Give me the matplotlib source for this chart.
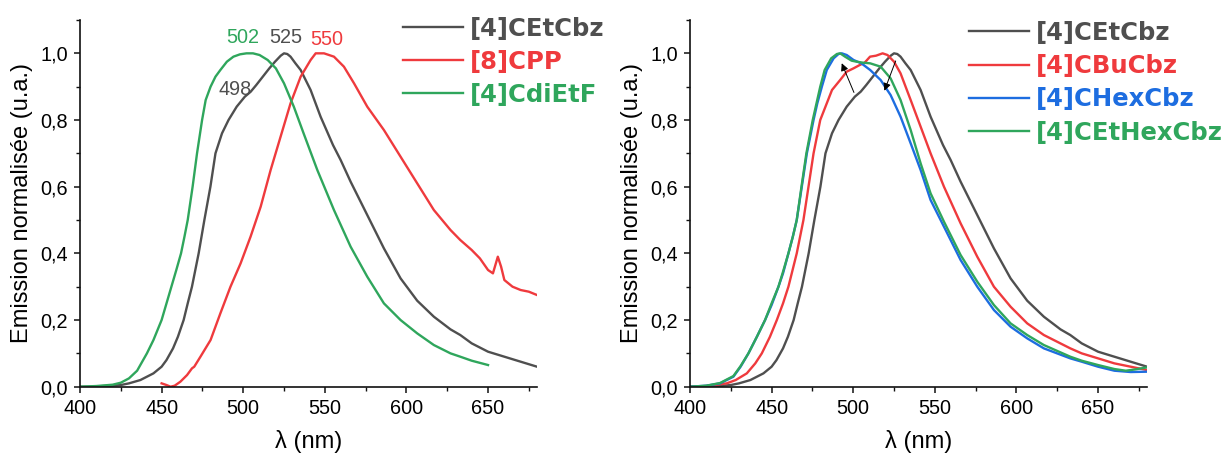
import matplotlib
matplotlib.use("Agg")
import matplotlib.pyplot as plt
from matplotlib.ticker import MultipleLocator, FuncFormatter

plt.rcParams['font.family'] = ['Liberation Sans', 'DejaVu Sans']

GRAY = '#4f4f4f'
RED = '#ef3a3d'
GREEN = '#2fa65c'
BLUE = '#1d6de0'

# [4]CEtCbz (same spectrum in both panels)
wl_etcbz = [400, 405, 410, 420, 425, 430, 437, 445, 450, 453, 457, 460, 463.5, 466,
            468.6, 472.7, 476.2, 479.9, 483, 487, 491, 496, 501, 504.6, 508, 512.8,
            516, 519.5, 523, 525, 527, 529, 532, 535.2, 541.3, 547.4, 555, 559.7,
            565.8, 576, 586.2, 596.4, 606.6, 616.8, 627, 633, 640, 650, 660, 670, 680]
em_etcbz = [0.0, 0.0, 0.001, 0.003, 0.005, 0.01, 0.02, 0.04, 0.06, 0.08, 0.115,
            0.15, 0.20, 0.25, 0.30, 0.40, 0.50, 0.60, 0.70, 0.76, 0.80, 0.84, 0.87,
            0.885, 0.905, 0.935, 0.955, 0.975, 0.993, 1.0, 0.998, 0.99, 0.97, 0.95,
            0.89, 0.81, 0.725, 0.68, 0.615, 0.515, 0.415, 0.325, 0.258, 0.21, 0.172,
            0.155, 0.13, 0.105, 0.09, 0.075, 0.06]

# [8]CPP
wl_cpp = [450, 453, 455.5, 458, 461.5, 465.6, 468.6, 470, 473.8, 480, 486, 492.2,
          498.4, 504.5, 510.7, 516.8, 522.9, 529, 535.2, 541.3, 544.4, 549.5, 555.6,
          561.7, 567.9, 576, 586.2, 596.4, 606.6, 616.8, 627, 633, 640, 645, 650,
          653, 656, 658, 660, 665, 670, 675, 680]
em_cpp = [0.01, 0.005, 0.0, 0.003, 0.015, 0.035, 0.055, 0.06, 0.09, 0.14, 0.22,
          0.30, 0.37, 0.45, 0.54, 0.65, 0.75, 0.85, 0.93, 0.98, 1.0, 1.0, 0.99,
          0.96, 0.91, 0.84, 0.77, 0.69, 0.61, 0.53, 0.47, 0.44, 0.41, 0.385, 0.35,
          0.34, 0.39, 0.36, 0.32, 0.30, 0.29, 0.285, 0.275]

# [4]CdiEtF
wl_dietf = [400, 410, 420, 425, 430, 435, 441, 445, 450, 453, 456, 459, 461.9, 464,
            466, 469, 471.7, 474.8, 477, 480, 483, 486, 490, 494, 498, 502, 506, 510,
            515, 520, 525, 531, 537, 545.4, 555.6, 565.8, 576, 586.2, 596.4, 606.6,
            616.8, 627, 633, 640, 650]
em_dietf = [0.0, 0.002, 0.006, 0.012, 0.025, 0.048, 0.10, 0.14, 0.20, 0.25, 0.30,
            0.35, 0.40, 0.45, 0.50, 0.60, 0.70, 0.80, 0.86, 0.90, 0.93, 0.95, 0.975,
            0.99, 0.997, 1.0, 1.0, 0.995, 0.98, 0.955, 0.91, 0.84, 0.76, 0.65, 0.53,
            0.42, 0.33, 0.25, 0.20, 0.16, 0.125, 0.10, 0.09, 0.078, 0.065]

# [4]CBuCbz
wl_bucbz = [400, 410, 422.5, 428, 434.8, 440, 444, 449, 453.2, 457, 460.3, 465.4,
            469.5, 472.6, 475.7, 479.8, 483.8, 487, 492, 496, 500.2, 504, 507, 510.3,
            514, 518, 521, 525, 529, 535.2, 541.3, 547.4, 555.6, 565.8, 576, 586.2,
            596.4, 606.6, 616.8, 633, 640, 650, 660, 670, 680]
em_bucbz = [0.0, 0.002, 0.01, 0.02, 0.04, 0.07, 0.10, 0.15, 0.20, 0.25, 0.30, 0.40,
            0.50, 0.60, 0.70, 0.80, 0.85, 0.89, 0.92, 0.945, 0.955, 0.965, 0.972,
            0.99, 0.993, 1.0, 0.995, 0.975, 0.94, 0.86, 0.78, 0.70, 0.60, 0.49, 0.39,
            0.30, 0.24, 0.19, 0.155, 0.115, 0.10, 0.085, 0.07, 0.06, 0.05]

# [4]CHexCbz
wl_hexcbz = [400, 410, 418.4, 426.6, 431, 435.8, 441, 446, 450, 454.2, 457, 460.3,
             463, 465.4, 468.5, 471.6, 475.7, 478, 480.8, 483.8, 488, 491, 493, 496,
             500.2, 505, 510.4, 516.8, 522.9, 529, 535.2, 541.3, 547.4, 555.6, 565.8,
             576, 586.2, 596.4, 606.6, 616.8, 633, 640, 650, 660, 670, 680]
em_hexcbz = [0.0, 0.003, 0.01, 0.03, 0.06, 0.10, 0.15, 0.20, 0.245, 0.30, 0.34,
             0.40, 0.45, 0.50, 0.60, 0.70, 0.80, 0.85, 0.90, 0.95, 0.985, 0.998, 1.0,
             0.995, 0.98, 0.97, 0.95, 0.92, 0.875, 0.81, 0.73, 0.65, 0.56, 0.48, 0.38,
             0.30, 0.23, 0.18, 0.145, 0.115, 0.085, 0.075, 0.06, 0.048, 0.044, 0.045]

# [4]CEtHexCbz
wl_ethexcbz = [400, 410, 418.4, 426.6, 431, 435.8, 441, 446, 450, 454.2, 457, 460.3,
               463, 465.4, 468.3, 471.3, 475.2, 477.5, 479.8, 482.5, 486.5, 490, 492,
               495, 499, 502, 506, 510.4, 516.8, 522.9, 529, 535.2, 541.3, 547.4,
               555.6, 565.8, 576, 586.2, 596.4, 606.6, 616.8, 633, 640, 650, 660, 667,
               673, 680]
em_ethexcbz = [0.0, 0.003, 0.011, 0.032, 0.062, 0.10, 0.15, 0.20, 0.25, 0.30, 0.345,
               0.40, 0.45, 0.50, 0.60, 0.70, 0.80, 0.85, 0.90, 0.95, 0.985, 0.998, 1.0,
               0.99, 0.978, 0.975, 0.972, 0.97, 0.96, 0.925, 0.86, 0.77, 0.67, 0.58,
               0.495, 0.395, 0.315, 0.245, 0.19, 0.155, 0.125, 0.09, 0.078, 0.065,
               0.053, 0.048, 0.052, 0.058]

# peak labels on the left panel: (text, x, y, colour)
peaks = [("502", 500, 1.049, GREEN), ("525", 526, 1.049, GRAY),
         ("550", 551, 1.043, RED), ("498", 495, 0.893, GRAY)]


def style_axis(ax):
    ax.set_xlim(400, 680)
    ax.set_ylim(0, 1.1)
    ax.spines['top'].set_visible(False)
    ax.spines['right'].set_visible(False)
    for s in ('left', 'bottom'):
        ax.spines[s].set_linewidth(1.2)
        ax.spines[s].set_color('#111111')
    ax.xaxis.set_major_locator(MultipleLocator(50))
    ax.xaxis.set_minor_locator(MultipleLocator(25))
    ax.yaxis.set_major_locator(MultipleLocator(0.2))
    ax.yaxis.set_minor_locator(MultipleLocator(0.1))
    ax.yaxis.set_major_formatter(FuncFormatter(lambda v, p: f"{v:.1f}".replace('.', ',')))
    ax.tick_params(which='major', direction='out', length=4.5, width=1.1,
                   labelsize=14.3, pad=4, color='#111111')
    ax.tick_params(which='minor', direction='out', length=3, width=1.0, color='#111111')
    ax.set_xlabel('λ (nm)', fontsize=17)
    ax.set_ylabel('Emission normalisée (u.a.)', fontsize=17)
    ax.xaxis.set_label_coords(0.5, -0.118)
    ax.yaxis.set_label_coords(-0.103, 0.5)


fig = plt.figure(figsize=(12.26, 4.57), dpi=100)
ax1 = fig.add_axes([80 / 1226, 70.3 / 457, 457 / 1226, 366.7 / 457])
ax2 = fig.add_axes([690 / 1226, 70.3 / 457, 457 / 1226, 366.7 / 457])

lw = 1.7
ax1.plot(wl_etcbz, em_etcbz, color=GRAY, lw=lw, label='[4]CEtCbz')
ax1.plot(wl_cpp, em_cpp, color=RED, lw=lw, label='[8]CPP')
ax1.plot(wl_dietf, em_dietf, color=GREEN, lw=lw, label='[4]CdiEtF')
for txt, x, y, c in peaks:
    ax1.text(x, y, txt, color=c, fontsize=14.3, ha='center', va='center')

ax2.plot(wl_etcbz, em_etcbz, color=GRAY, lw=lw, label='[4]CEtCbz')
ax2.plot(wl_bucbz, em_bucbz, color=RED, lw=lw, label='[4]CBuCbz')
ax2.plot(wl_hexcbz, em_hexcbz, color=BLUE, lw=lw, label='[4]CHexCbz')
ax2.plot(wl_ethexcbz, em_ethexcbz, color=GREEN, lw=lw, label='[4]CEtHexCbz')

arrow = dict(arrowstyle='-|>', color='black', lw=0.7, mutation_scale=11)
ax2.annotate('', xy=(492.3, 0.978), xytext=(501.1, 0.875), arrowprops=arrow)
ax2.annotate('', xy=(518.5, 0.88), xytext=(526.6, 0.985), arrowprops=arrow)

for ax in (ax1, ax2):
    style_axis(ax)

leg_font = {'family': 'DejaVu Sans', 'weight': 'bold', 'size': 17.5}
ax1.legend(loc='upper left', bbox_to_anchor=(403 / 1226, 1 - 17 / 457),
           bbox_transform=fig.transFigure, frameon=False, prop=leg_font,
           borderpad=0, borderaxespad=0, handlelength=2.47, handletextpad=0.3,
           labelspacing=0.36, labelcolor='linecolor')
ax2.legend(loc='upper left', bbox_to_anchor=(969 / 1226, 1 - 21 / 457),
           bbox_transform=fig.transFigure, frameon=False, prop=leg_font,
           borderpad=0, borderaxespad=0, handlelength=2.47, handletextpad=0.3,
           labelspacing=0.38, labelcolor='linecolor')

fig.savefig('out.png', dpi=100)
